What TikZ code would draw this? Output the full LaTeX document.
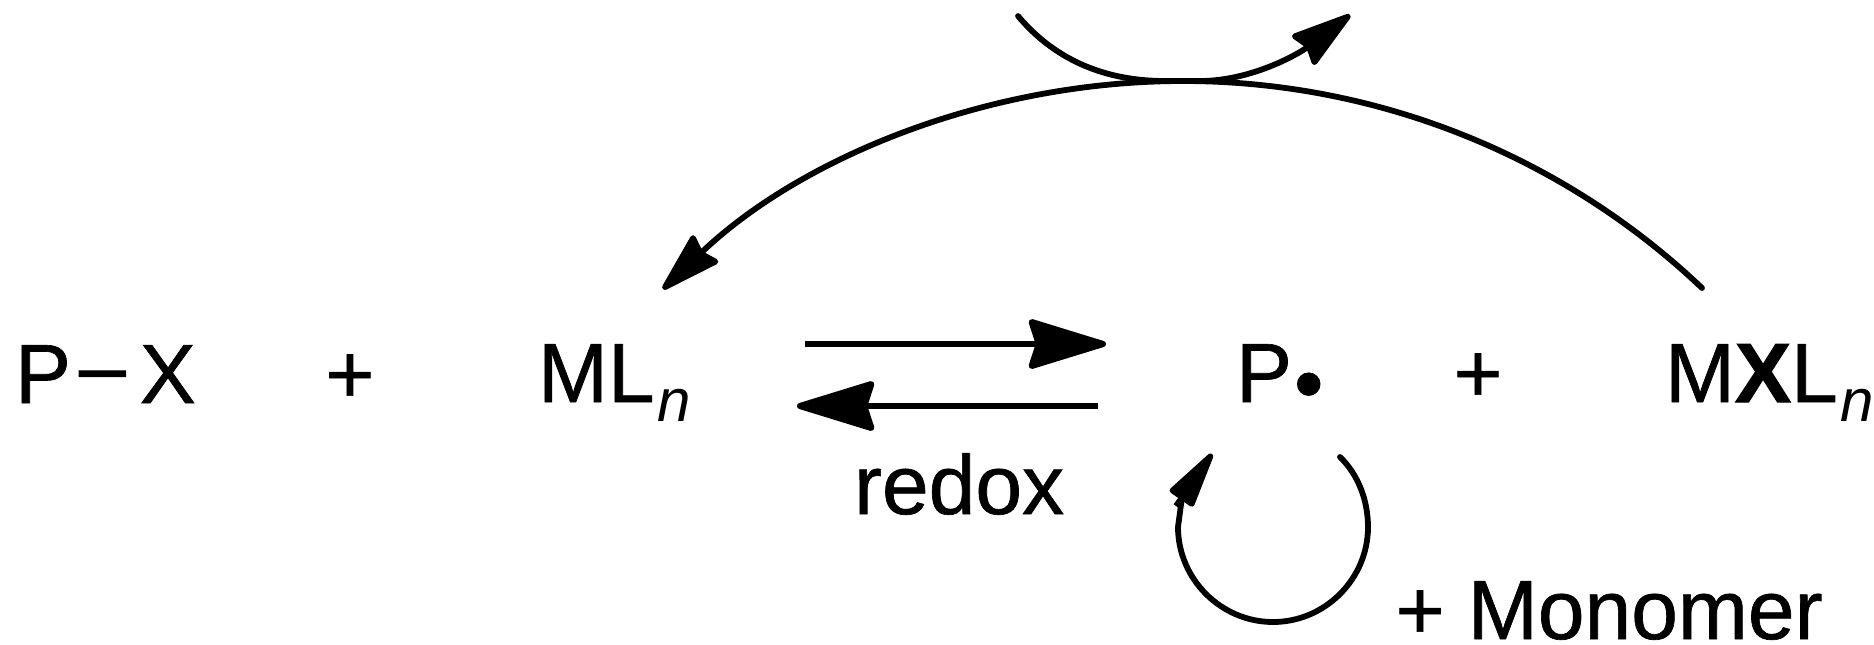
\documentclass[tikz,border=0pt]{standalone}
\usepackage{fontspec}
\setmainfont[UprightFeatures={FakeBold=0.8},BoldFeatures={FakeBold=1.5}]{Liberation Sans}
\newfontface\heavydash[FakeBold=1.2]{Liberation Sans}
\usetikzlibrary{arrows.meta}
\tikzset{
  chem/.style={anchor=base west,inner sep=0pt,outer sep=0pt,font=\fontsize{42pt}{50pt}\selectfont},
  plussign/.style={anchor=base,inner sep=0pt,outer sep=0pt,font=\fontsize{42pt}{50pt}\selectfont},
  conn/.style={line width=2.9pt,line cap=round,black},
  eqline/.style={line width=3.1pt,black},
  bighead/.style={-{Stealth[length=34pt,width=20pt,inset=3pt,round]}},
  eqhead/.style={-{Stealth[length=43pt,width=26pt,inset=4pt,round]}},
  loophead/.style={-{Stealth[length=33pt,width=14.5pt,inset=0pt,round]}}
}
\newcommand{\subn}{\kern1.5pt\raisebox{-9.5pt}{\fontsize{30pt}{36pt}\selectfont\textit{n}}}
\begin{document}
\begin{tikzpicture}[x=0.5pt,y=-0.5pt]
\useasboundingbox (0,0) rectangle (1874,644);
% species
\node[chem] (px) at (15,403) {P\kern4pt\raisebox{4pt}{\heavydash –}\kern7pt X};
\node[plussign] (plusa) at (350,403) {+};
\node[chem] (ml) at (538,402) {ML\subn};
\node[chem] (rad) at (1236,402) {P\kern1pt\raisebox{-5pt}{•}};
\node[plussign] (plusb) at (1478,402) {+};
\node[chem] (mxl) at (1665,402) {M\textbf{X}L\subn};
\node[chem] (redox) at (854,514) {redox};
\node[chem] (mono) at (1395.5,639) {+ Monomer};
% connector ends
\coordinate (bigstart) at (1702,288);
\coordinate (bigtop) at (1183,81);
\coordinate (bigend) at (663,289);
\coordinate (topstart) at (1018,16);
\coordinate (topa) at (1165,81);
\coordinate (topb) at (1200,81);
\coordinate (topend) at (1350,15);
\coordinate (fwdstart) at (805,344);
\coordinate (fwdend) at (1106,344);
\coordinate (revstart) at (1098,406);
\coordinate (revend) at (797,406);
\coordinate (loopstart) at (1340,457);
\coordinate (loopright) at (1368,527);
\coordinate (loopbottom) at (1273,622);
\coordinate (loopleft) at (1178,527);
\coordinate (loopneck) at (1182,497);
\coordinate (loopbase) at (1176,506);
\coordinate (looptip) at (1212,454);
% connectors
\draw[conn,bighead] (bigstart) .. controls (1562,155) and (1376,81) .. (bigtop)
  .. controls (990,81) and (803,156) .. (bigend);
\draw[conn,bighead] (topstart) .. controls (1055,60) and (1105,81) .. (topa) -- (topb)
  .. controls (1250,81) and (1297,55) .. (topend);
\draw[eqline,eqhead] (fwdstart) -- (fwdend);
\draw[eqline,eqhead] (revstart) -- (revend);
\draw[conn] (loopstart) .. controls (1358.6,475) and (1368,501) .. (loopright)
  .. controls (1368,579) and (1325,622) .. (loopbottom)
  .. controls (1221,622) and (1178,579) .. (loopleft) -- (loopneck);
\draw[conn,line cap=butt,loophead] (loopbase) -- (looptip);
\end{tikzpicture}
\end{document}
